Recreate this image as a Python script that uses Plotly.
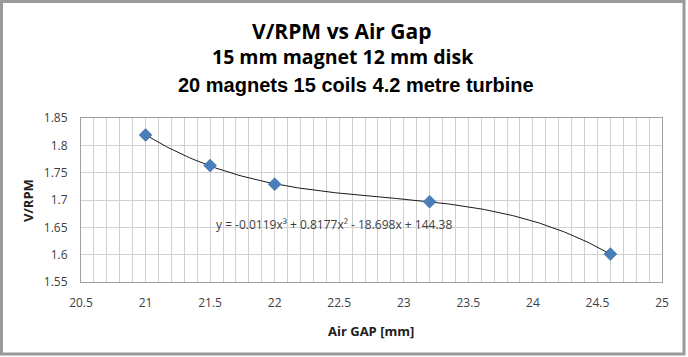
import numpy as np
import plotly.graph_objects as go

air_gap = [21.0, 21.5, 22.0, 23.2, 24.6]
v_rpm = [1.819, 1.763, 1.729, 1.697, 1.601]
x_ticks = [20.5, 21, 21.5, 22, 22.5, 23, 23.5, 24, 24.5, 25]
y_ticks = [1.55, 1.6, 1.65, 1.7, 1.75, 1.8, 1.85]
equation = "y = -0.0119x³ + 0.8177x² - 18.698x + 144.38"
title_lines = ["V/RPM vs Air Gap", "15 mm magnet 12 mm disk", "20 magnets 15 coils 4.2 metre turbine"]
x_title = "Air GAP [mm]"
y_title = "V/RPM"

W, H = 688, 357
L, R, T, B = 81, 26, 118, 75
pw, ph = W - L - R, H - T - B

def px(x):
    return (x - L) / pw

def py(y):
    return (H - B - y) / ph

coef = np.polyfit(air_gap, v_rpm, 3)
xs = np.linspace(min(air_gap), max(air_gap), 200)
ys = np.polyval(coef, xs)

fig = go.Figure()
fig.add_trace(go.Scatter(x=xs, y=ys, mode="lines",
                         line=dict(color="#1a1a1a", width=1), hoverinfo="skip"))
fig.add_trace(go.Scatter(x=air_gap, y=v_rpm, mode="markers",
                         marker=dict(symbol="diamond", size=10, color="#4a7ebb",
                                     line=dict(color="#3a6aa5", width=0.5))))

tick_font = dict(family="Open Sans, Noto Sans, sans-serif", size=12, color="#404040")
fig.update_layout(
    width=W, height=H, autosize=False,
    margin=dict(l=L, r=R, t=T, b=B, autoexpand=False),
    paper_bgcolor="white", plot_bgcolor="white",
    showlegend=False,
    xaxis=dict(range=[20.5, 25], tickvals=x_ticks, ticktext=[f"{v:g}" for v in x_ticks],
               showgrid=True, gridcolor="#d0d0d0", gridwidth=1,
               minor=dict(dtick=0.1, showgrid=True, gridcolor="#d0d0d0", gridwidth=1),
               showline=True, linecolor="#a0a0a0", mirror=True, zeroline=False,
               ticks="", tickfont=tick_font, ticklabelstandoff=10),
    yaxis=dict(range=[1.55, 1.85], tickvals=y_ticks, ticktext=[f"{v:g}" for v in y_ticks],
               showgrid=True, gridcolor="#d0d0d0", gridwidth=1,
               showline=True, linecolor="#a0a0a0", mirror=True, zeroline=False,
               ticks="", tickfont=tick_font, ticklabelstandoff=10),
)

fig.add_annotation(x=22.46, y=1.6555, text=equation, showarrow=False,
                   xanchor="center", yanchor="middle",
                   font=dict(family="Open Sans, Noto Sans, sans-serif", size=12, color="#404040"))

def paper_text(x, y, text, font, angle=0):
    fig.add_annotation(xref="paper", yref="paper", x=px(x), y=py(y), text=text,
                       showarrow=False, xanchor="center", yanchor="middle",
                       textangle=angle, font=font)

axis_title_font = dict(family="Open Sans, sans-serif", size=13, color="#202020")
paper_text(371, 331, f"<b>{x_title}</b>", axis_title_font)
paper_text(28, 201, f"<b>{y_title}</b>", axis_title_font, angle=-90)

paper_text(342, 31, f"<b>{title_lines[0]}</b>", dict(family="Open Sans, sans-serif", size=21, color="black"))
paper_text(343, 57, f"<b>{title_lines[1]}</b>", dict(family="Open Sans, sans-serif", size=19.5, color="black"))
paper_text(356, 85, f"<b>{title_lines[2]}</b>", dict(family="Liberation Sans, Arial, sans-serif", size=20, color="black"))

fig.add_shape(type="rect", xref="paper", yref="paper",
              x0=px(1.5), x1=px(684), y0=py(354), y1=py(1.5),
              line=dict(color="#9a9a9a", width=3), fillcolor="rgba(0,0,0,0)", layer="above")

fig.write_html("out.html", config={"displayModeBar": False},
               post_script="document.body.style.margin='0';")
